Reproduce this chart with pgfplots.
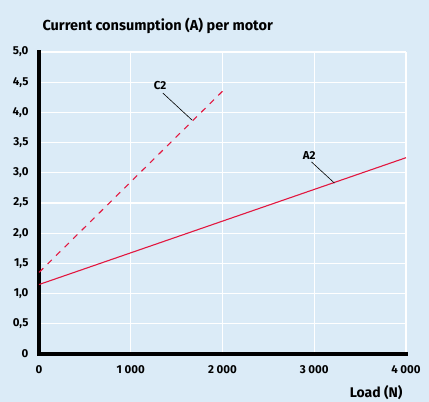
\documentclass[border=0pt]{standalone}
\usepackage{pgfplots}
\pgfplotsset{compat=1.18}
\usepackage{fontspec}
\setmainfont{Fira Sans}
\definecolor{bgblue}{HTML}{DBEBF7}
\definecolor{cred}{HTML}{E2173F}
\begin{document}
\begin{tikzpicture}[x=1pt,y=1pt]
\useasboundingbox[fill=bgblue] (-39,-48) rectangle (390,354);
\begin{axis}[
  at={(0,0)}, anchor=origin,
  scale only axis, width=367pt, height=302pt,
  xmin=0, xmax=4000, ymin=0, ymax=5,
  axis line style={line width=3.5pt, black, line cap=rect},
  axis x line*=bottom, axis y line*=left,
  xtick={0,1000,2000,3000,4000},
  xticklabels={0,1\hspace{2.5pt}000,2\hspace{2.5pt}000,3\hspace{2.5pt}000,4\hspace{2.5pt}000},
  ytick={0,0.5,1,1.5,2,2.5,3,3.5,4,4.5,5},
  yticklabels={0,{0,5},{1,0},{1,5},{2,0},{2,5},{3,0},{3,5},{4,0},{4,5},{5,0}},
  tick style={draw=none},
  grid=major, major grid style={white, line width=1.2pt},
  ticklabel style={font=\bfseries\fontsize{11.5}{13}\selectfont},
  xticklabel style={yshift=-8pt},
  yticklabel style={xshift=-7pt},
  clip=false,
]
\addplot[cred, line width=1.1pt] coordinates {(0,1.15) (4000,3.25)};
\addplot[cred, line width=1.1pt, dash pattern=on 6pt off 6pt] coordinates {(0,1.35) (2000,4.35)};
\draw[black, line width=0.6pt] (axis cs:1350,4.32) -- (axis cs:1670,3.87);
\node[font=\bfseries\fontsize{11.5}{13}\selectfont] at (axis cs:1320,4.44) {C2};
\draw[black, line width=0.6pt] (axis cs:2970,3.18) -- (axis cs:3220,2.83);
\node[font=\bfseries\fontsize{11.5}{13}\selectfont] at (axis cs:2945,3.29) {A2};
\end{axis}
\node[anchor=base west, font=\bfseries\fontsize{14.5}{16}\selectfont] at (0,323) {Current consumption (A) per motor};
\node[anchor=base east, font=\bfseries\fontsize{14}{16}\selectfont] at (367,-44) {Load (N)};
\end{tikzpicture}
\end{document}
